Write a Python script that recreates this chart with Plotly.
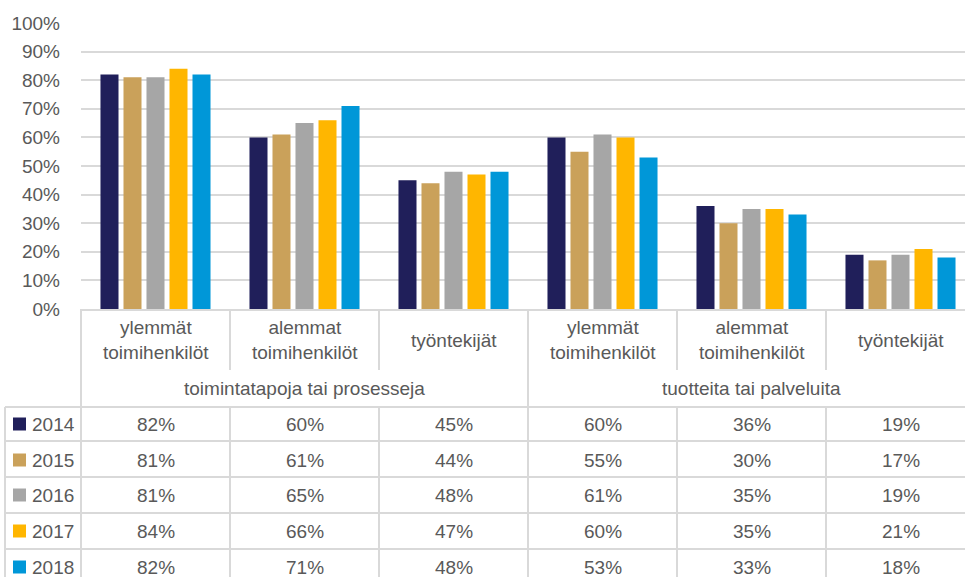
import plotly.graph_objects as go

groups = ["toimintatapoja tai prosesseja", "tuotteita tai palveluita"]
categories = ["ylemmät<br>toimihenkilöt", "alemmat<br>toimihenkilöt", "työntekijät",
              "ylemmät<br>toimihenkilöt", "alemmat<br>toimihenkilöt", "työntekijät"]
years = ["2014", "2015", "2016", "2017", "2018"]
values = {
    "2014": [82, 60, 45, 60, 36, 19],
    "2015": [81, 61, 44, 55, 30, 17],
    "2016": [81, 65, 48, 61, 35, 19],
    "2017": [84, 66, 47, 60, 35, 21],
    "2018": [82, 71, 48, 53, 33, 18],
}
colors = {"2014": "#201F5A", "2015": "#CAA15A", "2016": "#A6A6A6",
          "2017": "#FFB600", "2018": "#0097D8"}

W, H = 965, 577
L, T, B_PIX = 81, 23, 309
PW = W - L
PH = B_PIX - T
CAT_W = 149

def px(x):
    return (x - L) / PW

def py(y):
    return (B_PIX - y) / PH

TXT = "#595959"
GRID = "#D9D9D9"
FONT = "Liberation Sans, Arial, sans-serif"

xpos = list(range(len(categories)))
fig = go.Figure()
for yr in years:
    fig.add_trace(go.Bar(x=xpos, y=[v / 100 for v in values[yr]], name=yr,
                         marker=dict(color=colors[yr], line=dict(width=0)),
                         showlegend=False))

shapes = []
line = dict(color=GRID, width=2)
# horizontal table lines
for y in [407, 441, 477, 513, 549]:
    shapes.append(dict(type="line", xref="paper", yref="paper", x0=px(5), x1=px(W + 5),
                       y0=py(y), y1=py(y), line=line))
# left border of legend column
shapes.append(dict(type="line", xref="paper", yref="paper", x0=px(5), x1=px(5),
                   y0=py(407), y1=py(H + 10), line=line))
# full-height verticals
for i in [0, 3]:
    x = L + CAT_W * i
    shapes.append(dict(type="line", xref="paper", yref="paper", x0=px(x), x1=px(x),
                       y0=py(B_PIX), y1=py(H + 10), line=line))
# category separators
for i in [1, 2, 4, 5]:
    x = L + CAT_W * i
    shapes.append(dict(type="line", xref="paper", yref="paper", x0=px(x), x1=px(x),
                       y0=py(B_PIX), y1=py(370), line=line))
    shapes.append(dict(type="line", xref="paper", yref="paper", x0=px(x), x1=px(x),
                       y0=py(407), y1=py(H + 10), line=line))

annotations = []
fnt = dict(family=FONT, size=19, color=TXT)
for i, c in enumerate(categories):
    annotations.append(dict(x=i, xref="x", y=py(340), yref="paper", text=c,
                            showarrow=False, font=fnt, xanchor="center", yanchor="middle"))
for g, gname in enumerate(groups):
    annotations.append(dict(x=1 + 3 * g, xref="x", y=py(388), yref="paper", text=gname,
                            showarrow=False, font=fnt, xanchor="center", yanchor="middle"))

row_y = [424, 460, 495, 531, 567]
for r, yr in enumerate(years):
    yc = row_y[r]
    shapes.append(dict(type="rect", xref="paper", yref="paper", x0=px(13), x1=px(26),
                       y0=py(yc - 6.5), y1=py(yc + 6.5), fillcolor=colors[yr],
                       line=dict(width=0)))
    annotations.append(dict(x=px(30), xref="paper", y=py(yc), yref="paper", text=yr,
                            showarrow=False, font=fnt, xanchor="left", yanchor="middle"))
    for i, v in enumerate(values[yr]):
        annotations.append(dict(x=i, xref="x", y=py(yc), yref="paper", text=f"{v}%",
                                showarrow=False, font=fnt, xanchor="center",
                                yanchor="middle"))

fig.update_layout(
    width=W, height=H,
    margin=dict(l=L, r=0, t=T, b=H - B_PIX, pad=0),
    paper_bgcolor="white", plot_bgcolor="white",
    barmode="group", bargap=0.228, bargroupgap=0.217,
    font=dict(family=FONT, color=TXT, size=19),
    xaxis=dict(range=[-0.5, -0.5 + PW / CAT_W], showticklabels=False, showgrid=False,
               zeroline=False, showline=True, linecolor=GRID, linewidth=2, ticks="",
               fixedrange=True),
    yaxis=dict(range=[0, 1.0], dtick=0.1, tickformat=".0%", showgrid=True,
               gridcolor=GRID, gridwidth=1.5, zeroline=False, showline=False,
               ticks="", ticklabelstandoff=20, tickfont=dict(size=19, color=TXT),
               fixedrange=True),
    shapes=shapes, annotations=annotations,
)

fig.write_html("out.html", config={"displayModeBar": False},
               post_script="document.body.style.margin='0';document.body.style.overflow='hidden';")
